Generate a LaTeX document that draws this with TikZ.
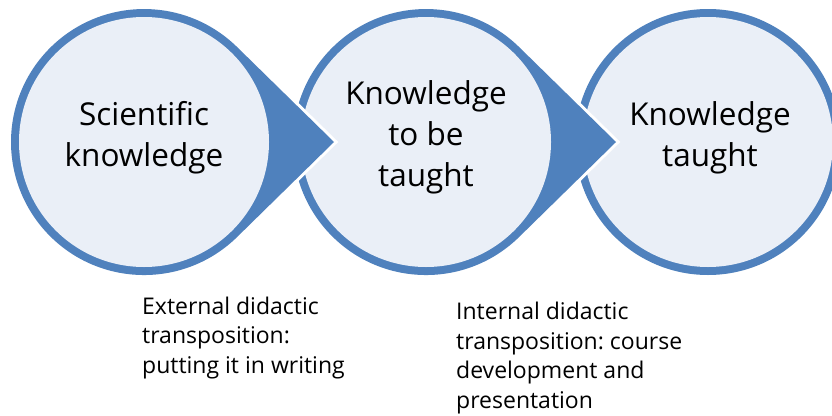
\documentclass[tikz,border=0pt]{standalone}
\usepackage{fontspec}
\setmainfont{Open Sans}
\usetikzlibrary{calc}
\definecolor{bord}{RGB}{79,129,189}
\definecolor{lite}{RGB}{234,239,247}
\begin{document}
\begin{tikzpicture}[x=1pt,y=-1pt,
  ctext/.style={align=center, inner sep=0pt, anchor=base, font=\fontsize{31.5}{41}\selectfont},
  ltext/.style={align=left, inner sep=0pt, anchor=base west, font=\fontsize{23}{29.5}\selectfont\frenchspacing},
  gap/.style={draw=white, line width=6},
  ring/.style={fill=bord},
  core/.style={fill=lite}]
\useasboundingbox (0,0) rectangle (832,415);
\clip (0,0) rectangle (832,415);
\coordinate (c1) at (144,142);
\coordinate (c2) at (426,142);
\coordinate (c3) at (708,142);
% third circle
\fill[ring] (c3) circle[radius=133];
\fill[core] (c3) circle[radius=125];
% second teardrop
\coordinate (p2) at ($(c2)+(190,0)$);
\draw[gap] (p2) -- ($(c2)+(93.1,95.0)$) arc[start angle=45.57, end angle=314.43, radius=133] -- cycle;
\fill[ring] (p2) -- ($(c2)+(93.1,95.0)$) arc[start angle=45.57, end angle=314.43, radius=133] -- cycle;
\fill[core] (c2) circle[radius=125];
% first teardrop
\coordinate (p1) at ($(c1)+(190,0)$);
\draw[gap] (p1) -- ($(c1)+(93.1,95.0)$) arc[start angle=45.57, end angle=314.43, radius=133] -- cycle;
\fill[ring] (p1) -- ($(c1)+(93.1,95.0)$) arc[start angle=45.57, end angle=314.43, radius=133] -- cycle;
\fill[core] (c1) circle[radius=125];
% texts (base anchor = baseline of the last line)
\node[ctext] (t1) at (144,166) {Scientific\\knowledge};
\node[ctext] (t2) at (426,186) {Knowledge\\to be\\taught};
\node[ctext] (t3) at (710,166) {Knowledge\\taught};
\node[ltext] (l1) at (142,373) {External didactic\\transposition:\\putting it in writing};
\node[ltext] (l2) at (456,408) {Internal didactic\\transposition: course\\development and\\presentation};
\end{tikzpicture}
\end{document}
